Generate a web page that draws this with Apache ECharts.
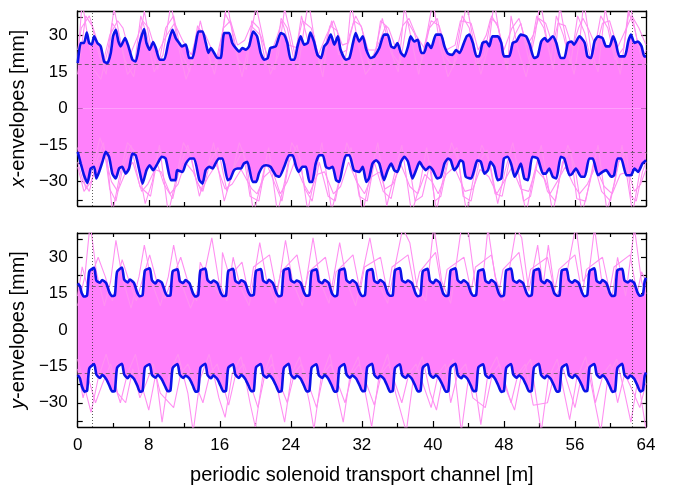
<!DOCTYPE html>
<html><head><meta charset="utf-8">
<script src="https://cdn.jsdelivr.net/npm/echarts@6/dist/echarts.min.js"></script>
<style>html,body{margin:0;padding:0;background:#fff}#c{width:678px;height:490px}</style>
</head><body><div id="c"></div>
<script>
// x-axis ticks (m) and y ticks (mm)
const xLabelTicks = [0, 8, 16, 24, 32, 40, 48, 56, 64];
const yLabelTicks = [-30, -15, 0, 15, 30];
const yAllTicks = [-37.5, -30, -22.5, -15, -7.5, 0, 7.5, 15, 22.5, 30, 37.5];
const refLevels = [18, -18];
const refPositions = [1.6, 62.4];

// x-envelope (top panel), [position m, envelope mm]
const xEnvUpper = [[0,18.6],[0.34,26.9],[0.71,26.9],[1.02,31.2],[1.28,26.9],[1.58,26.2],[1.84,29.6],[2.22,26.9],[2.59,25.5],[2.97,19.3],[3.34,18.6],[3.72,22.8],[3.98,29.6],[4.28,32.3],[4.58,27.5],[4.84,25.5],[5.33,28.9],[5.71,25.5],[6.16,20],[6.53,19.3],[6.98,26.9],[7.47,32.6],[7.74,26.9],[8.1,24.1],[8.49,27.3],[8.79,24.8],[9.24,20],[9.73,20],[10.2,26.9],[10.67,32.3],[11.04,28.9],[11.42,26.9],[11.72,25.5],[12.17,26.2],[12.55,20.7],[12.92,20.7],[13.3,26.9],[13.6,31.6],[14.05,31.6],[14.42,26.9],[14.72,22.8],[14.99,24.8],[15.36,22.8],[15.74,20.7],[16.1,20.7],[16.5,31],[17.05,31],[17.4,26.9],[17.8,24.8],[18.2,23.4],[18.55,24.8],[18.93,24.1],[19.3,25.5],[19.76,31.6],[20.2,29.6],[20.6,22.8],[21.0,20],[21.4,20.7],[21.7,24.8],[22.3,25.5],[22.87,31],[23.25,30.3],[23.6,26.9],[24.0,20],[24.4,20],[24.75,25.5],[25.1,29.6],[25.5,26.2],[25.9,26.9],[26.2,31.2],[26.6,27.5],[27.0,22],[27.4,20.7],[27.76,25.5],[28.1,26.9],[28.5,30.3],[28.9,26.2],[29.3,29.6],[29.6,24.1],[30.2,20],[30.6,20.7],[31.0,26.9],[31.3,31],[31.7,27.5],[32.1,29.6],[32.5,24.1],[33.0,20.7],[33.4,21.4],[33.96,24.8],[34.5,30.3],[34.9,30.3],[35.3,25.5],[35.65,24.8],[36.0,26.9],[36.4,22.8],[36.8,21.4],[37.2,25.5],[37.5,29.6],[37.9,27.5],[38.3,28.2],[38.7,22.8],[39.0,22.8],[39.4,26.9],[39.8,24.8],[40.35,30.3],[40.9,30.3],[41.3,25.5],[41.7,22.5],[42.2,22],[42.6,24],[43.0,22.8],[43.5,27],[43.8,29.6],[44.1,30.3],[44.5,26.9],[44.9,21.4],[45.2,21.4],[45.6,26.9],[46.0,27.5],[46.35,25.5],[46.7,29.6],[47.3,29.6],[47.7,26.9],[48.0,21.4],[48.6,21.4],[49.0,26.9],[49.4,27.5],[49.9,30.3],[50.5,29.6],[50.9,26.2],[51.4,20.7],[51.8,21.4],[52.2,27.5],[52.6,28.9],[52.9,27.5],[53.5,29.6],[53.9,26.9],[54.4,20.7],[54.8,20.7],[55.2,26.9],[55.6,27.5],[55.9,26.2],[56.5,29.6],[57.1,26.9],[57.4,21.4],[57.8,20.7],[58.2,27.5],[58.6,29.6],[59.1,28.9],[59.5,25.5],[59.9,25.5],[60.3,29.6],[60.6,26.9],[61.0,21.4],[61.6,21.4],[62.0,27.5],[62.3,30.3],[62.7,26.9],[63.1,27.5],[63.5,25.5],[63.8,21.4],[64,21.4]];
const xEnvLower = [[0,-17.8],[0.34,-22.6],[0.71,-27.4],[1.09,-30.5],[1.46,-24.6],[1.84,-23.9],[2.1,-28.7],[2.48,-25.3],[2.78,-21.9],[3.16,-17.8],[3.53,-19.8],[3.9,-26.7],[4.28,-28.7],[4.66,-24.6],[5.0,-23.9],[5.4,-26.7],[5.78,-24.6],[6.16,-18.5],[6.53,-19.2],[6.98,-26],[7.3,-30.8],[7.74,-25.3],[8.1,-23.3],[8.49,-25.3],[8.98,-22.6],[9.46,-19.8],[9.9,-20.5],[10.5,-29.4],[11.0,-29.4],[11.2,-25.3],[11.8,-26.0],[12.17,-22.6],[12.7,-20.5],[13.1,-20.5],[13.7,-29.4],[14.05,-30.8],[14.4,-25.3],[14.8,-23.9],[15.2,-24.6],[15.5,-22.6],[15.9,-20.5],[16.3,-20.5],[16.9,-29.4],[17.2,-28.7],[17.6,-25.3],[18.0,-24.6],[18.4,-24.6],[18.7,-22.6],[19.1,-21.9],[19.7,-30.1],[20.1,-30.1],[20.4,-26.7],[20.8,-23.9],[21.2,-23.3],[21.7,-23.9],[22.3,-27.4],[22.7,-28],[23.25,-23.9],[23.8,-19.2],[24.2,-19.2],[24.6,-23.9],[24.9,-26],[25.3,-23.9],[25.7,-23.9],[26.1,-30.1],[26.4,-30.1],[26.8,-22.6],[27.2,-19.2],[27.6,-19.2],[27.95,-23.9],[28.3,-24.6],[28.7,-23.9],[29.1,-29.4],[29.45,-30.1],[29.8,-24.6],[30.2,-19.2],[30.6,-19.2],[31.1,-25.3],[31.7,-26],[32.1,-23.9],[32.5,-30.1],[32.8,-28.7],[33.2,-22.6],[33.6,-21.2],[33.96,-22.6],[34.5,-29.4],[34.9,-25.3],[35.3,-22.6],[35.65,-25.3],[36.0,-26],[36.4,-21.9],[36.8,-19.8],[37.2,-21.9],[37.7,-28.7],[38.1,-25.3],[38.5,-21.9],[38.85,-23.9],[39.2,-25.3],[39.6,-23.9],[40.0,-25.3],[40.5,-28.7],[40.9,-28],[41.3,-22.6],[41.7,-20.5],[42.0,-21.2],[42.4,-25.3],[42.8,-23.5],[43.1,-21.2],[43.4,-21.9],[43.7,-28],[44.3,-28.7],[44.7,-24.6],[45.0,-21.2],[45.4,-21.9],[45.8,-26.7],[46.2,-25.3],[46.5,-21.9],[46.9,-23.9],[47.3,-29.4],[47.7,-28.7],[48.0,-20.5],[48.4,-19.8],[48.8,-22.6],[49.2,-28],[49.5,-26],[49.9,-22.6],[50.3,-28.7],[50.7,-29.4],[51.2,-19.8],[51.8,-20.5],[52.4,-26.7],[52.7,-26.7],[53.1,-24.6],[53.5,-28],[53.9,-28.7],[54.4,-19.8],[54.8,-20.5],[55.4,-27.4],[55.7,-26.7],[56.1,-24.6],[56.7,-28],[57.1,-28],[57.6,-20.5],[58.0,-20.5],[58.6,-27.4],[59.1,-26],[59.5,-25.3],[60.1,-28],[60.4,-27.4],[60.8,-20.5],[61.2,-20.5],[61.8,-27.4],[62.3,-27.4],[62.7,-24.6],[63.1,-26],[63.6,-22.6],[64,-21.2]];

// sample particle trajectories reaching beyond the x-envelope (top panel)
const xTrajUpA = [[0,20],[0.5,44],[1.1,30],[1.8,16],[2.6,12],[3.4,24],[4.1,41],[4.8,28],[5.6,14],[6.4,18],[7.1,38],[7.8,30],[8.6,15],[9.6,22],[10.5,43],[11.3,26],[12.2,12],[13.0,20],[13.8,36],[14.6,24],[15.4,14],[16.2,28],[16.8,44],[17.6,27],[18.5,13],[19.2,25],[20.1,42],[20.8,30],[21.7,14],[22.6,22],[23.3,41],[24.0,30],[24.8,16],[25.5,33],[26.0,44],[26.8,25],[27.6,13],[28.2,30],[28.6,36],[29.4,22],[30.3,24],[30.8,43],[31.5,28],[32.4,14],[33.2,18],[34.3,37],[35.2,24],[36.1,15],[36.8,42],[37.6,28],[38.4,14],[39.3,30],[40.0,44],[40.8,26],[41.7,13],[42.6,20],[43.8,43],[44.6,27],[45.4,14],[46.3,26],[46.9,44],[47.6,28],[48.4,16],[48.8,38],[49.6,24],[50.5,13],[51.5,30],[52.1,44],[52.9,27],[53.6,16],[54.3,42],[55.1,26],[55.9,14],[56.6,30],[57.0,44],[57.8,24],[58.6,15],[59.4,41],[60.3,26],[61.1,14],[62.2,43],[63.0,28],[64,18]];
const xTrajUpB = [[0,14],[0.9,38],[1.6,34],[2.4,22],[3.2,14],[3.9,35],[4.6,31],[5.3,20],[6.3,13],[7.5,40],[8.2,26],[9.0,16],[9.9,33],[10.8,38],[11.6,24],[12.6,15],[13.5,34],[14.2,29],[15.1,17],[16.0,22],[16.6,39],[17.3,34],[18.1,20],[19.0,16],[19.6,36],[20.4,33],[21.2,18],[22.2,16],[22.9,37],[23.6,33],[24.4,19],[25.2,38],[25.9,28],[26.6,30],[27.3,17],[28.4,34],[29.2,32],[30.0,18],[30.6,30],[31.3,38],[32.0,33],[32.8,18],[33.8,26],[34.7,34],[35.5,22],[36.3,18],[37.1,36],[37.9,31],[38.8,20],[39.6,33],[40.5,37],[41.3,22],[42.3,17],[43.3,38],[44.1,33],[44.9,18],[45.8,22],[46.6,38],[47.4,33],[48.2,18],[49.2,30],[49.9,35],[50.8,20],[51.7,38],[52.5,33],[53.3,20],[53.9,38],[54.7,30],[55.5,18],[56.3,38],[57.1,31],[57.9,18],[58.9,38],[59.7,33],[60.5,20],[61.5,25],[62.0,40],[62.7,33],[63.5,20],[64,24]];
const xTrajUpC = [[0,24],[0.4,33],[1.3,38],[2.0,30],[2.8,18],[3.6,30],[4.5,36],[5.1,33],[5.9,22],[6.8,30],[7.3,36],[8.0,33],[8.9,22],[10.0,30],[10.9,35],[11.8,28],[12.8,22],[13.6,33],[14.4,30],[15.6,20],[16.4,33],[17.2,36],[18.0,26],[18.8,28],[19.5,34],[20.6,30],[21.5,20],[22.5,30],[23.0,36],[23.8,26],[24.6,25],[25.3,36],[26.3,33],[27.1,22],[28.0,30],[28.8,36],[29.8,26],[30.5,27],[31.1,36],[31.9,34],[32.7,24],[33.6,24],[34.1,36],[35.0,33],[35.9,24],[36.6,34],[37.3,37],[38.1,30],[39.0,25],[39.8,36],[40.7,34],[41.5,24],[42.5,26],[43.1,36],[44.3,35],[45.1,24],[46.0,30],[46.5,37],[47.2,35],[48.0,24],[48.9,33],[49.7,37],[50.6,26],[51.3,30],[51.9,37],[52.7,35],[53.5,26],[54.1,35],[54.9,34],[55.7,25],[56.4,33],[56.9,37],[57.6,32],[58.4,25],[59.1,35],[59.9,36],[60.8,25],[61.8,33],[62.4,38],[63.2,33],[64,26]];
const xTrajLoA = [[0,-16],[0.9,-33],[1.6,-26],[2.5,-12],[3.3,-20],[3.9,-43],[4.7,-28],[5.6,-14],[6.5,-18],[7.6,-39],[8.4,-30],[9.2,-15],[10.2,-43],[11.0,-30],[11.9,-14],[12.8,-20],[13.7,-36],[14.5,-26],[15.3,-14],[16.5,-38],[17.3,-28],[18.2,-14],[19.0,-22],[19.8,-43],[20.7,-30],[21.5,-16],[22.5,-43],[23.3,-30],[24.1,-14],[25.0,-20],[25.9,-42],[26.7,-28],[27.5,-14],[28.6,-42],[29.4,-30],[30.3,-14],[31.1,-22],[32.1,-43],[32.9,-28],[33.8,-14],[34.8,-40],[35.6,-28],[36.5,-15],[37.6,-43],[38.5,-32],[39.3,-16],[40.4,-42],[41.2,-28],[42.1,-14],[42.9,-22],[43.8,-43],[44.6,-28],[45.5,-15],[46.4,-22],[47.3,-39],[48.1,-26],[49.0,-14],[50.5,-43],[51.3,-28],[52.2,-15],[53.5,-43],[54.3,-28],[55.2,-15],[56.0,-24],[56.8,-43],[57.7,-30],[58.6,-15],[59.6,-42],[60.5,-30],[61.3,-15],[62.5,-43],[63.3,-26],[64,-18]];
const xTrajLoB = [[0,-22],[0.6,-30],[1.3,-34],[2.1,-22],[2.9,-14],[3.6,-33],[4.3,-38],[5.1,-24],[6.0,-15],[7.0,-32],[8.2,-36],[8.9,-22],[9.7,-31],[10.7,-37],[11.5,-24],[12.4,-15],[13.4,-30],[14.1,-34],[14.9,-22],[15.8,-16],[16.8,-34],[17.6,-24],[18.6,-17],[19.4,-36],[20.4,-38],[21.2,-22],[22.1,-30],[23.0,-38],[23.8,-22],[24.7,-15],[25.6,-33],[26.4,-38],[27.2,-22],[28.2,-36],[29.0,-38],[29.9,-22],[30.8,-16],[31.7,-36],[32.6,-38],[33.4,-22],[34.4,-34],[35.3,-37],[36.2,-22],[37.1,-18],[38.0,-38],[38.8,-36],[39.7,-22],[40.2,-38],[40.9,-36],[41.8,-20],[42.7,-16],[43.4,-36],[44.3,-38],[45.2,-22],[46.1,-17],[47.0,-35],[47.8,-36],[48.7,-20],[49.6,-26],[50.2,-38],[51.0,-36],[51.9,-20],[52.9,-34],[53.8,-38],[54.6,-22],[55.5,-17],[56.2,-37],[57.2,-38],[58.1,-22],[59.0,-34],[60.0,-38],[60.9,-22],[61.8,-18],[62.3,-36],[62.9,-38],[63.6,-26],[64,-22]];
const xTrajLoC = [[0,-24],[0.7,-34],[1.5,-30],[2.3,-22],[3.1,-20],[3.8,-30],[4.5,-34],[5.3,-27],[6.2,-22],[7.2,-34],[7.9,-31],[8.7,-25],[9.4,-26],[10.4,-35],[11.3,-31],[12.1,-22],[13.0,-26],[13.9,-34],[14.7,-28],[15.6,-23],[16.6,-33],[17.4,-31],[18.4,-25],[19.6,-33],[20.2,-35],[21.0,-28],[21.9,-25],[22.8,-35],[23.6,-30],[24.4,-22],[25.3,-30],[26.1,-35],[27.0,-27],[27.8,-26],[28.8,-35],[29.6,-32],[30.5,-22],[31.4,-30],[32.3,-35],[33.1,-28],[34.0,-26],[34.6,-33],[35.5,-31],[36.4,-23],[37.4,-32],[38.3,-35],[39.1,-27],[39.9,-30],[40.6,-35],[41.5,-27],[42.4,-24],[43.6,-34],[44.5,-33],[45.3,-25],[46.3,-28],[47.2,-35],[48.0,-30],[48.9,-24],[49.9,-33],[50.8,-34],[51.6,-25],[52.6,-29],[53.2,-35],[54.0,-30],[54.9,-24],[55.8,-31],[56.5,-35],[57.4,-31],[58.3,-24],[59.3,-32],[60.2,-35],[61.1,-27],[62.0,-26],[62.7,-34],[63.4,-31],[64,-25]];

// y-envelope (bottom panel)
const yEnvUpper = [[0,19.2],[0.25,18],[0.45,15.2],[0.75,13.8],[1.05,14.2],[1.3,24.2],[1.85,25.6],[2.1,20.4],[2.5,19.5],[2.75,20.6],[3.2,19.3],[3.58,15.4],[3.88,14],[4.18,14.3],[4.43,24],[4.98,25.8],[5.23,20.8],[5.63,19.6],[5.88,20.8],[6.33,19.4],[6.71,15.3],[7.01,13.9],[7.31,14.4],[7.56,24.5],[8.11,25.4],[8.36,20.5],[8.76,19.2],[9.01,20.5],[9.46,19.6],[9.84,15.6],[10.14,14.1],[10.44,14.3],[10.69,24.2],[11.24,25],[11.49,20.2],[11.89,19.4],[12.14,20.6],[12.59,19.2],[12.97,15.2],[13.27,13.8],[13.57,14.4],[13.82,24.6],[14.37,25.3],[14.62,20.6],[15.02,19.5],[15.27,20.4],[15.72,19.3],[16.1,15.4],[16.4,14],[16.7,14.2],[16.95,24.3],[17.5,25.2],[17.75,20.3],[18.15,19.3],[18.4,20.5],[18.85,19.5],[19.23,15.5],[19.53,14.2],[19.83,14.5],[20.08,24.4],[20.63,25.1],[20.88,20.4],[21.28,19.4],[21.53,20.7],[21.98,19.3],[22.36,15.3],[22.66,13.9],[22.96,14.3],[23.21,24.7],[23.76,25.4],[24.01,20.5],[24.41,19.6],[24.66,20.4],[25.11,19.4],[25.49,15.4],[25.79,14.1],[26.09,14.4],[26.34,24.2],[26.89,25],[27.14,20.2],[27.54,19.3],[27.79,20.6],[28.24,19.5],[28.62,15.2],[28.92,13.9],[29.22,14.3],[29.47,24.5],[30.02,25.3],[30.27,20.6],[30.67,19.5],[30.92,20.5],[31.37,19.3],[31.75,15.5],[32.05,14],[32.35,14.4],[32.6,24.3],[33.15,25.1],[33.4,20.3],[33.8,19.4],[34.05,20.6],[34.5,19.4],[34.88,15.3],[35.18,14.1],[35.48,14.3],[35.73,24.6],[36.28,25.5],[36.53,20.5],[36.93,19.6],[37.18,20.4],[37.63,19.3],[38.01,15.4],[38.31,13.9],[38.61,14.4],[38.86,24.2],[39.41,25.2],[39.66,20.4],[40.06,19.3],[40.31,20.7],[40.76,19.5],[41.14,15.2],[41.44,14],[41.74,14.3],[41.99,24.5],[42.54,25.4],[42.79,20.6],[43.19,19.5],[43.44,20.5],[43.89,19.3],[44.27,15.5],[44.57,14.1],[44.87,14.4],[45.12,24.3],[45.67,25],[45.92,20.3],[46.32,19.4],[46.57,20.6],[47.02,19.4],[47.4,15.3],[47.7,13.9],[48.0,14.3],[48.25,24.6],[48.8,25.3],[49.05,20.5],[49.45,19.5],[49.7,20.4],[50.15,19.3],[50.53,15.4],[50.83,14],[51.13,14.4],[51.38,24.4],[51.93,25.2],[52.18,20.4],[52.58,19.3],[52.83,20.6],[53.28,19.5],[53.66,15.2],[53.96,14.1],[54.26,14.3],[54.51,24.5],[55.06,25.1],[55.31,20.6],[55.71,19.5],[55.96,20.5],[56.41,19.4],[56.79,15.5],[57.09,13.9],[57.39,14.4],[57.64,24.3],[58.19,25.4],[58.44,20.3],[58.84,19.4],[59.09,20.6],[59.54,19.3],[59.92,15.3],[60.22,14],[60.52,14.3],[60.77,24.6],[61.32,25.2],[61.57,20.5],[61.97,19.6],[62.22,20.4],[62.67,19.4],[63.05,15.4],[63.35,14.1],[63.65,14.6],[63.85,20],[64,21.5]];
const yEnvLower = [[0,-18.6],[0.25,-20],[0.45,-23],[0.75,-25.4],[1.05,-25],[1.3,-15.8],[1.85,-14],[2.1,-18.4],[2.5,-19.8],[2.75,-18.6],[3.2,-20.2],[3.58,-23.1],[3.88,-25.3],[4.18,-25.1],[4.43,-15.6],[4.98,-13.9],[5.23,-18.3],[5.63,-19.9],[5.88,-18.7],[6.33,-20.1],[6.71,-22.9],[7.01,-25.5],[7.31,-25],[7.56,-15.4],[8.11,-14.1],[8.36,-18.5],[8.76,-19.7],[9.01,-18.6],[9.46,-20.3],[9.84,-23.2],[10.14,-25.2],[10.44,-24.9],[10.69,-15.7],[11.24,-14],[11.49,-18.4],[11.89,-19.8],[12.14,-18.8],[12.59,-20.1],[12.97,-23],[13.27,-25.4],[13.57,-25.1],[13.82,-15.5],[14.37,-13.9],[14.62,-18.6],[15.02,-19.9],[15.27,-18.7],[15.72,-20.2],[16.1,-23.1],[16.4,-25.3],[16.7,-25],[16.95,-15.6],[17.5,-14.1],[17.75,-18.4],[18.15,-19.8],[18.4,-18.6],[18.85,-20.1],[19.23,-22.9],[19.53,-25.2],[19.83,-25],[20.08,-15.4],[20.63,-14],[20.88,-18.5],[21.28,-19.7],[21.53,-18.7],[21.98,-20.3],[22.36,-23.2],[22.66,-25.5],[22.96,-25.1],[23.21,-15.7],[23.76,-13.9],[24.01,-18.4],[24.41,-19.9],[24.66,-18.8],[25.11,-20.1],[25.49,-23],[25.79,-25.3],[26.09,-25],[26.34,-15.5],[26.89,-14.1],[27.14,-18.6],[27.54,-19.8],[27.79,-18.6],[28.24,-20.2],[28.62,-23.1],[28.92,-25.4],[29.22,-25.1],[29.47,-15.6],[30.02,-14],[30.27,-18.4],[30.67,-19.7],[30.92,-18.7],[31.37,-20.1],[31.75,-22.9],[32.05,-25.2],[32.35,-25],[32.6,-15.4],[33.15,-13.9],[33.4,-18.5],[33.8,-19.9],[34.05,-18.8],[34.5,-20.2],[34.88,-23.2],[35.18,-25.5],[35.48,-25.1],[35.73,-15.7],[36.28,-14.1],[36.53,-18.6],[36.93,-19.8],[37.18,-18.6],[37.63,-20.1],[38.01,-23],[38.31,-25.3],[38.61,-25],[38.86,-15.5],[39.41,-14],[39.66,-18.4],[40.06,-19.7],[40.31,-18.7],[40.76,-20.3],[41.14,-23.1],[41.44,-25.4],[41.74,-25.1],[41.99,-15.6],[42.54,-13.9],[42.79,-18.5],[43.19,-19.9],[43.44,-18.8],[43.89,-20.1],[44.27,-22.9],[44.57,-25.2],[44.87,-25],[45.12,-15.4],[45.67,-14.1],[45.92,-18.6],[46.32,-19.8],[46.57,-18.6],[47.02,-20.2],[47.4,-23.2],[47.7,-25.5],[48.0,-25.1],[48.25,-15.7],[48.8,-14],[49.05,-18.4],[49.45,-19.7],[49.7,-18.7],[50.15,-20.1],[50.53,-23],[50.83,-25.3],[51.13,-25],[51.38,-15.5],[51.93,-13.9],[52.18,-18.5],[52.58,-19.9],[52.83,-18.8],[53.28,-20.2],[53.66,-23.1],[53.96,-25.4],[54.26,-25.1],[54.51,-15.6],[55.06,-14.1],[55.31,-18.6],[55.71,-19.8],[55.96,-18.6],[56.41,-20.1],[56.79,-22.9],[57.09,-25.2],[57.39,-25],[57.64,-15.4],[58.19,-14],[58.44,-18.4],[58.84,-19.7],[59.09,-18.7],[59.54,-20.3],[59.92,-23.2],[60.22,-25.5],[60.52,-25.1],[60.77,-15.7],[61.32,-13.9],[61.57,-18.5],[61.97,-19.9],[62.22,-18.8],[62.67,-20.1],[63.05,-23],[63.35,-25.3],[63.65,-24.8],[63.85,-19],[64,-17.5]];

// sample particle trajectories reaching beyond the y-envelope (bottom panel)
const yTrajUpA = [[0,10],[0.8,22],[1.4,44],[2.1,24],[3.0,10],[3.7,20],[4.3,37],[5.0,22],[6.0,9],[6.9,22],[7.5,35],[8.3,20],[9.3,10],[10.2,22],[10.8,35],[11.6,20],[12.7,9],[14.3,24],[15.1,38],[15.9,20],[16.8,12],[17.5,30],[18.3,18],[19.3,10],[20.5,36],[21.3,20],[22.3,11],[23.4,37],[24.2,20],[25.3,10],[26.5,38],[27.3,20],[28.3,11],[29.5,36],[30.3,20],[31.3,10],[32.9,38],[33.8,20],[34.9,11],[36.6,42],[37.4,36],[38.2,18],[39.2,12],[40.1,43],[41.0,20],[42.0,11],[43.2,42],[44.0,40],[44.8,18],[45.6,20],[46.2,42],[47.0,22],[48.0,12],[49.4,42],[50.0,38],[50.8,16],[51.8,35],[52.4,18],[53.0,35],[53.8,14],[54.9,20],[56.1,43],[56.9,20],[57.6,24],[58.2,42],[59.1,18],[60.2,14],[60.8,30],[61.7,14],[62.7,42],[63.5,20],[64,15]];
const yTrajUpB = [[0,14],[0.5,26],[1.1,18],[2.3,30],[3.1,22],[3.9,12],[5.0,29],[5.8,20],[6.6,12],[8.1,31],[8.9,20],[9.8,13],[11.6,30],[12.4,20],[13.4,12],[13.8,28],[14.5,22],[16.1,14],[16.3,32],[17.1,22],[18.5,28],[19.3,14],[19.8,26],[21.6,31],[22.4,16],[22.9,24],[24.7,31],[25.5,16],[26.0,24],[27.9,30],[28.7,15],[29.1,24],[31.0,31],[31.8,16],[32.3,26],[34.1,30],[34.9,15],[35.4,26],[37.2,31],[38.0,16],[38.5,24],[40.3,32],[41.1,15],[41.6,25],[43.5,30],[44.3,16],[44.8,26],[46.6,31],[47.4,15],[47.9,25],[49.7,32],[50.5,15],[51.0,25],[52.9,30],[53.7,16],[54.2,25],[56.0,31],[56.8,15],[57.3,25],[59.1,30],[59.9,16],[60.4,26],[62.2,31],[63.0,15],[63.5,24],[64,20]];
const yTrajLoA = [[0,-12],[0.8,-24],[1.5,-34],[2.3,-20],[3.2,-10],[4.1,-22],[4.8,-30],[5.6,-18],[6.5,-10],[7.3,-24],[8.0,-33],[8.8,-18],[9.5,-38],[10.3,-18],[11.3,-10],[12.4,-26],[13.0,-42],[13.8,-20],[14.8,-10],[15.9,-28],[16.6,-36],[17.4,-18],[18.4,-11],[19.4,-30],[20.0,-40],[20.8,-20],[21.8,-10],[22.7,-28],[23.3,-38],[24.1,-18],[25.0,-11],[26.1,-30],[26.6,-41],[27.4,-20],[28.4,-10],[29.3,-28],[29.9,-38],[30.7,-18],[31.6,-11],[32.5,-28],[33.1,-40],[33.9,-20],[34.9,-10],[35.8,-26],[37.0,-42],[37.8,-20],[38.8,-11],[39.7,-26],[40.4,-33],[41.2,-18],[42.3,-12],[43.2,-42],[44.0,-20],[44.8,-24],[45.4,-39],[46.2,-18],[47.2,-11],[48.4,-26],[49.2,-33],[50.0,-18],[51.0,-12],[52.2,-42],[53.0,-20],[54.0,-12],[55.4,-37],[56.2,-20],[57.2,-11],[58.9,-42],[59.7,-20],[60.7,-12],[61.6,-26],[62.3,-38],[63.1,-20],[64,-41]];
const yTrajLoB = [[0,-16],[0.6,-28],[1.2,-20],[2.0,-30],[2.8,-22],[3.7,-14],[4.5,-26],[5.4,-30],[6.2,-16],[7.0,-28],[7.7,-22],[8.5,-14],[9.3,-26],[10.8,-32],[11.6,-18],[12.4,-14],[14.1,-30],[14.9,-18],[15.7,-14],[17.0,-31],[17.8,-18],[18.7,-14],[20.3,-32],[21.1,-18],[21.9,-14],[23.6,-30],[24.4,-18],[25.2,-14],[26.9,-32],[27.7,-18],[28.5,-14],[30.1,-30],[30.9,-18],[31.7,-14],[33.4,-31],[34.2,-18],[35.0,-14],[36.5,-30],[37.3,-18],[38.1,-14],[39.8,-32],[40.6,-18],[41.4,-14],[42.0,-30],[42.8,-18],[43.7,-14],[44.5,-28],[45.9,-32],[46.7,-18],[47.5,-14],[48.8,-30],[49.6,-18],[50.4,-14],[51.3,-31],[52.9,-30],[53.7,-18],[54.5,-14],[56.0,-32],[56.8,-18],[57.6,-14],[58.3,-30],[59.2,-18],[60.0,-14],[60.8,-30],[61.6,-18],[62.6,-26],[63.3,-32],[64,-22]];

const FONT = '"Liberation Sans", Arial, Helvetica, sans-serif';
const PINK = '#ff80fb';
const PINK_LINE = '#ff90f2';
const BLUE = '#0a12e8';

const grids = [
  {left: 77, right: 32, top: 11, height: 195},
  {left: 77, right: 32, top: 233, height: 194}
];

function minus(v){ return v < 0 ? '\u2212' + Math.abs(v) : String(v); }

function xAx(gi, pos, labels){
  return {
    type: 'value', gridIndex: gi, position: pos, min: xLabelTicks[0], max: xLabelTicks[xLabelTicks.length - 1], interval: 8,
    axisLine: {show: true, onZero: false, lineStyle: {color: '#000', width: 1.3}},
    axisTick: {show: true, inside: true, length: 6, lineStyle: {color: '#000', width: 1.2}},
    minorTick: {show: true, splitNumber: 2, length: 4, lineStyle: {color: '#000', width: 1.2}},
    splitLine: {show: false},
    axisLabel: {show: labels, color: '#000', fontSize: 17, fontFamily: FONT, margin: 10},
    name: labels ? 'periodic solenoid transport channel [m]' : '',
    nameLocation: 'middle', nameGap: 38,
    nameTextStyle: {color: '#000', fontSize: 20, fontFamily: FONT}
  };
}
function yAx(gi, pos, labels, nm){
  return {
    type: 'value', gridIndex: gi, position: pos, min: -40, max: 40,
    axisLine: {show: true, onZero: false, lineStyle: {color: '#000', width: 1.3}},
    axisTick: {show: true, inside: true, length: 5, customValues: yAllTicks, lineStyle: {color: '#000', width: 1.2}},
    splitLine: {show: false},
    axisLabel: {show: labels, color: '#000', fontSize: 17, fontFamily: FONT, margin: 10, customValues: yLabelTicks, formatter: minus},
    name: labels ? nm : '', nameLocation: 'middle', nameGap: 42, nameRotate: 90,
    nameTextStyle: {color: '#000', fontSize: 20, fontFamily: FONT,
      rich: {i: {fontStyle: 'italic', fontSize: 20, fontFamily: FONT, color: '#000'}}}
  };
}

function refMarks(){
  const d = [];
  refLevels.forEach(v => d.push({yAxis: v, lineStyle: {type: [4, 3], color: '#555', width: 0.8}}));
  refPositions.forEach(v => d.push({xAxis: v, lineStyle: {type: [1, 2], color: '#333', width: 0.8}}));
  return {silent: true, symbol: 'none', label: {show: false}, animation: false, data: d};
}

const series = [];
function panel(gi, up, lo, trajs){
  [up, lo].forEach(arr => series.push({
    type: 'line', xAxisIndex: gi * 2, yAxisIndex: gi * 2, data: arr, showSymbol: false, smooth: 0.2,
    lineStyle: {width: 0}, areaStyle: {color: PINK, opacity: 1}, z: 1, silent: true
  }));
  trajs.forEach(arr => series.push({
    type: 'line', xAxisIndex: gi * 2, yAxisIndex: gi * 2, data: arr, showSymbol: false,
    lineStyle: {width: 1.1, color: PINK_LINE}, z: 2, silent: true
  }));
  series.push({type: 'line', xAxisIndex: gi * 2, yAxisIndex: gi * 2, data: [], markLine: refMarks(), z: 3});
  [up, lo].forEach(arr => series.push({
    type: 'line', xAxisIndex: gi * 2, yAxisIndex: gi * 2, data: arr, showSymbol: false, smooth: 0.2,
    lineStyle: {width: 2.6, color: BLUE}, z: 5, silent: true
  }));
}
panel(0, xEnvUpper, xEnvLower, [xTrajUpA, xTrajUpB, xTrajUpC, xTrajLoA, xTrajLoB, xTrajLoC]);
panel(1, yEnvUpper, yEnvLower, [yTrajUpA, yTrajUpB, yTrajLoA, yTrajLoB]);

const chart = echarts.init(document.getElementById('c'), null, {renderer: 'canvas'});
chart.setOption({
  animation: false,
  grid: grids,
  xAxis: [xAx(0, 'bottom', false), xAx(0, 'top', false), xAx(1, 'bottom', true), xAx(1, 'top', false)],
  yAxis: [yAx(0, 'left', true, '{i|x}-envelopes [mm]'), yAx(0, 'right', false), yAx(1, 'left', true, '{i|y}-envelopes [mm]'), yAx(1, 'right', false)],
  series: series
});
</script>
</body></html>
